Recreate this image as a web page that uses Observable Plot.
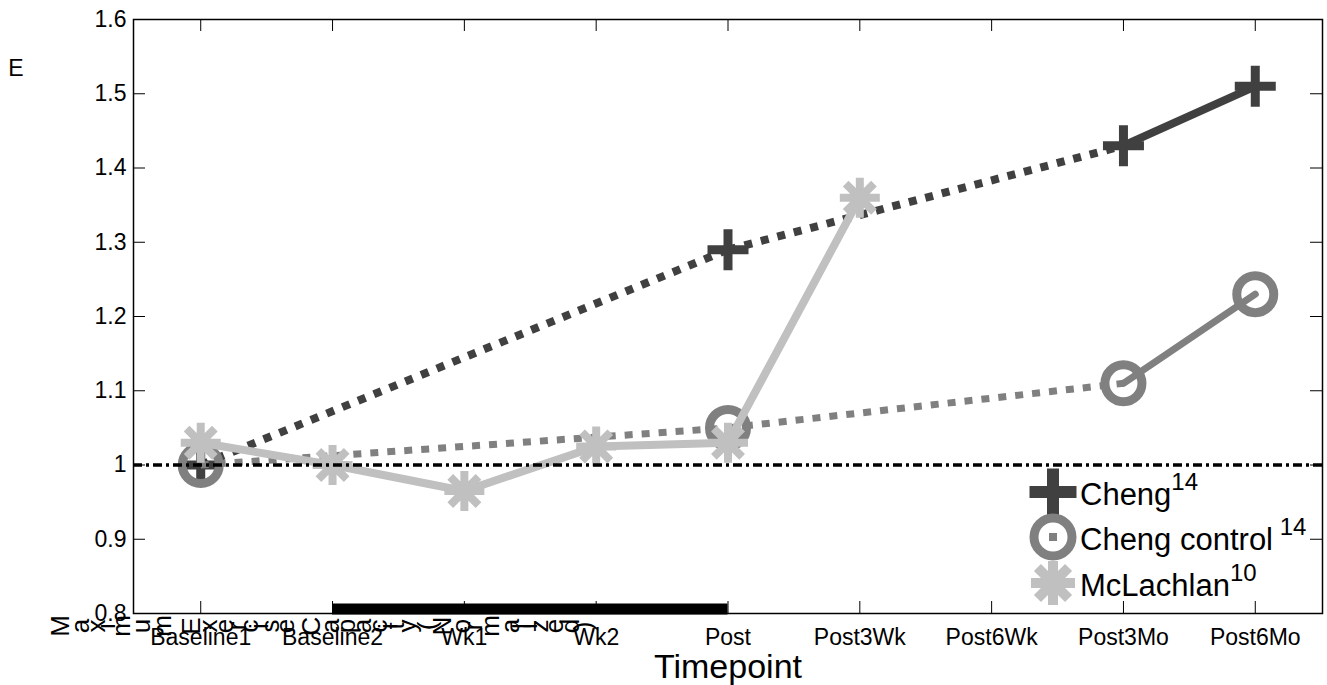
<!DOCTYPE html>
<html>
<head>
<meta charset="utf-8">
<script src="https://cdn.jsdelivr.net/npm/d3@7"></script>
<script src="https://cdn.jsdelivr.net/npm/@observablehq/plot@0.6"></script>
<style>
  body { margin: 0; background: #fff; }
  #chart { position: relative; width: 1327px; height: 685px; }
  #chart svg { font-family: "Liberation Sans", Arial, sans-serif; }
</style>
</head>
<body>
<div id="chart"></div>
<script>
// Timepoints along the x axis
const timepoints = ["Baseline1", "Baseline2", "Wk1", "Wk2", "Post", "Post3Wk", "Post6Wk", "Post3Mo", "Post6Mo"];

// Y axis ticks and their labels
const yTicks = [0.8, 0.9, 1.0, 1.1, 1.2, 1.3, 1.4, 1.5, 1.6];
const yTickLabels = ["0.8", "0.9", "1", "1.1", "1.2", "1.3", "1.4", "1.5", "1.6"];

// Normalized values per study
const chengTime = ["Baseline1", "Post", "Post3Mo", "Post6Mo"];
const chengValue = [1.00, 1.29, 1.43, 1.51];

const controlTime = ["Baseline1", "Post", "Post3Mo", "Post6Mo"];
const controlValue = [1.00, 1.05, 1.11, 1.23];

const mclachlanTime = ["Baseline1", "Baseline2", "Wk1", "Wk2", "Post", "Post3Wk"];
const mclachlanValue = [1.03, 1.00, 0.965, 1.025, 1.03, 1.36];

// Training period bar and reference level
const trainingPeriod = ["Baseline2", "Post"];
const referenceLevel = 1;

// Axis titles
const xTitle = "Timepoint";
const yTitle = "Maximum Exercise Capacity (Normalized)";

// ---------------------------------------------------------------
const W = 1327, H = 685;
const mL = 133, mR = 5, mT = 19, mB = 72;
const plotW = W - mL - mR, plotH = H - mT - mB;
const xDomain = [0.49, 9.51];
const yDomain = [0.8, 1.6];
const tickLen = 12;
const FONT = "'Liberation Sans', Arial, sans-serif";

const idx = name => timepoints.indexOf(name) + 1;
const points = (times, values) => times.map((t, i) => ({x: idx(t), y: values[i]}));
const segments = pts => d3.pairs(pts).map(([a, b]) => ({x1: a.x, y1: a.y, x2: b.x, y2: b.y, solid: b.x - a.x === 1}));

// Marker shapes drawn with strokes
const plusSymbol = {draw(ctx, size) {
  const r = Math.sqrt(size / Math.PI);
  ctx.moveTo(-r, 0); ctx.lineTo(r, 0);
  ctx.moveTo(0, -r); ctx.lineTo(0, r);
}};
const starSymbol = {draw(ctx, size) {
  const r = Math.sqrt(size / Math.PI), d = r * Math.SQRT1_2;
  ctx.moveTo(-r, 0); ctx.lineTo(r, 0);
  ctx.moveTo(0, -r); ctx.lineTo(0, r);
  ctx.moveTo(-d, -d); ctx.lineTo(d, d);
  ctx.moveTo(-d, d); ctx.lineTo(d, -d);
}};

const series = [
  {pts: points(chengTime, chengValue), color: "#404040", lw: 8, marker: {symbol: plusSymbol, r: 20.5, strokeWidth: 9}},
  {pts: points(controlTime, controlValue), color: "#808080", lw: 7, marker: {symbol: "circle", r: 18.5, strokeWidth: 9}},
  {pts: points(mclachlanTime, mclachlanValue), color: "#c0c0c0", lw: 8, marker: {symbol: starSymbol, r: 20, strokeWidth: 8}}
];

const seriesMarks = series.flatMap(s => {
  const segs = segments(s.pts);
  return [
    Plot.link(segs.filter(d => !d.solid), {x1: "x1", y1: "y1", x2: "x2", y2: "y2", stroke: s.color, strokeWidth: s.lw, strokeDasharray: "8 9"}),
    Plot.link(segs.filter(d => d.solid), {x1: "x1", y1: "y1", x2: "x2", y2: "y2", stroke: s.color, strokeWidth: s.lw, strokeLinecap: "round"}),
    Plot.dot(s.pts, {x: "x", y: "y", fill: "none", stroke: s.color, ...s.marker})
  ];
});

const tickIdx = d3.range(1, timepoints.length + 1);

const chart = Plot.plot({
  width: W, height: H,
  marginLeft: mL, marginRight: mR, marginTop: mT, marginBottom: mB,
  x: {domain: xDomain},
  y: {domain: yDomain},
  style: {fontFamily: FONT, background: "white", color: "black"},
  marks: [
    Plot.axisX(tickIdx, {tickSize: 0, tickPadding: 15, tickFormat: i => timepoints[i - 1], fontSize: 23, label: null}),
    Plot.axisY(yTicks, {tickSize: 0, tickPadding: 7, tickFormat: d => yTickLabels[yTicks.indexOf(d)], fontSize: 23, label: null}),
    Plot.text([xTitle], {frameAnchor: "bottom", dy: 54, fontSize: 34, lineAnchor: "middle", fill: "black"}),
    ...seriesMarks,
    Plot.ruleY([referenceLevel], {stroke: "black", strokeWidth: 3.5, strokeDasharray: "9 4 3 4"}),
    Plot.ruleY([{start: trainingPeriod[0], end: trainingPeriod[1], level: yDomain[0]}],
      {y: "level", x1: d => idx(d.start), x2: d => idx(d.end), stroke: "black", strokeWidth: 11, dy: -4.5}),
    // inward ticks on all four sides
    Plot.tickX(tickIdx, {x: d => d, stroke: "black", strokeWidth: 1, insetTop: plotH - tickLen}),
    Plot.tickX(tickIdx, {x: d => d, stroke: "black", strokeWidth: 1, insetBottom: plotH - tickLen}),
    Plot.tickY(yTicks, {y: d => d, stroke: "black", strokeWidth: 1, insetRight: plotW - tickLen}),
    Plot.tickY(yTicks, {y: d => d, stroke: "black", strokeWidth: 1, insetLeft: plotW - tickLen}),
    Plot.frame({stroke: "black", strokeWidth: 1.5})
  ]
});
document.getElementById("chart").appendChild(chart);

// Legend inside the lower right of the axes
const svg = d3.select(chart);
const legend = svg.append("g").attr("font-family", FONT).attr("fill", "black").attr("text-anchor", "start");
const legendItems = [
  {name: "Cheng", sup: "14", supGap: "", color: "#404040", kind: "plus"},
  {name: "Cheng control", sup: "14", supGap: " ", color: "#808080", kind: "circle"},
  {name: "McLachlan", sup: "10", supGap: "", color: "#c0c0c0", kind: "star"}
];
const rowY = [492, 537, 583];
legendItems.forEach((it, i) => {
  const g = legend.append("g").attr("transform", `translate(1053,${rowY[i]})`);
  if (it.kind === "plus") {
    g.append("path").attr("d", "M-23.5,0H23.5M0,-23.5V23.5").attr("stroke", it.color).attr("stroke-width", 12).attr("fill", "none");
  } else if (it.kind === "circle") {
    g.append("circle").attr("r", 19).attr("stroke", it.color).attr("stroke-width", 9).attr("fill", "none");
    g.append("rect").attr("x", -4).attr("y", -4).attr("width", 8).attr("height", 8).attr("fill", it.color);
  } else {
    const r = 22, d = r * Math.SQRT1_2;
    g.append("path").attr("d", `M${-r},0H${r}M0,${-r}V${r}M${-d},${-d}L${d},${d}M${-d},${d}L${d},${-d}`)
      .attr("stroke", it.color).attr("stroke-width", 10).attr("fill", "none");
  }
  const t = g.append("text").attr("x", 27).attr("y", 13).attr("font-size", 31).attr("text-anchor", "start");
  t.append("tspan").text(it.name);
  t.append("tspan").attr("dy", -15).attr("font-size", 24).style("white-space", "pre").text(it.supGap + it.sup);
});

// Y axis title, each glyph turned on its side
const measure = document.createElement("canvas").getContext("2d");
measure.font = "29px " + FONT;
let cx = 48;
const yt = svg.append("g").attr("font-family", FONT).attr("font-size", 26).attr("fill", "black");
for (const ch of yTitle) {
  const w = measure.measureText(ch).width;
  if (ch !== " ") {
    yt.append("text").attr("transform", `translate(${cx + w / 2},626) rotate(-90)`)
      .attr("text-anchor", "middle").attr("dominant-baseline", "central").text(ch);
  }
  cx += w;
}
svg.append("text").attr("x", 16).attr("y", 68).attr("text-anchor", "middle").attr("dominant-baseline", "central")
  .attr("font-family", FONT).attr("font-size", 23).attr("fill", "black").text(yTitle[8]);
</script>
</body>
</html>
